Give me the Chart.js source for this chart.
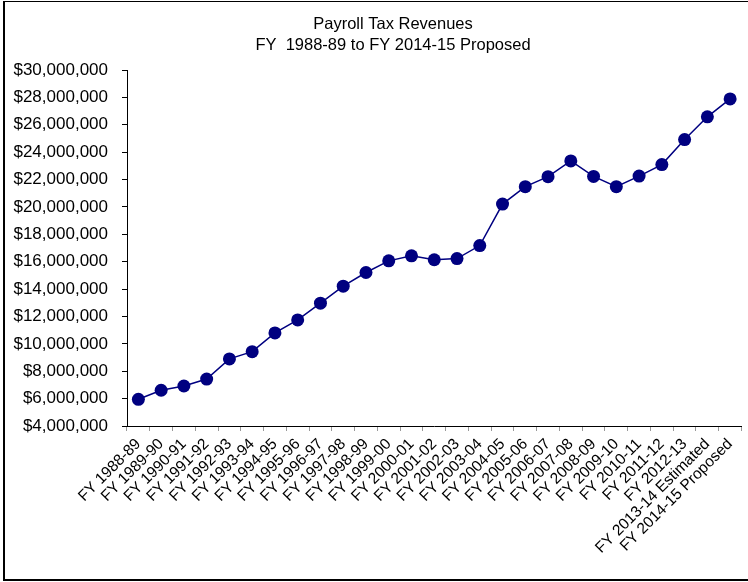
<!DOCTYPE html>
<html>
<head>
<meta charset="utf-8">
<script src="https://cdn.jsdelivr.net/npm/chart.js@4/dist/chart.umd.min.js"></script>
<style>
  html, body { margin: 0; padding: 0; background: #fff; overflow: hidden; }
  #wrap { position: relative; width: 748px; height: 582px; }
  #frame {
    position: absolute; left: 3px; top: 1px; right: 0; bottom: 1px;
    border-left: 2px solid #000; border-top: 1px solid #000; border-bottom: 2px solid #000;
    pointer-events: none;
  }
  canvas { position: absolute; left: 0; top: 0; }
</style>
</head>
<body>
<div id="wrap">
  <canvas id="payrollChart" width="748" height="582"></canvas>
  <div id="frame"></div>
</div>
<script>
const titleLines = ['Payroll Tax Revenues', 'FY  1988-89 to FY 2014-15 Proposed'];

const fiscalYears = [
  'FY 1988-89', 'FY 1989-90', 'FY 1990-91', 'FY 1991-92', 'FY 1992-93', 'FY 1993-94',
  'FY 1994-95', 'FY 1995-96', 'FY 1996-97', 'FY 1997-98', 'FY 1998-99', 'FY 1999-00',
  'FY 2000-01', 'FY 2001-02', 'FY 2002-03', 'FY 2003-04', 'FY 2004-05', 'FY 2005-06',
  'FY 2006-07', 'FY 2007-08', 'FY 2008-09', 'FY 2009-10', 'FY 2010-11', 'FY 2011-12',
  'FY 2012-13', 'FY 2013-14 Estimated', 'FY 2014-15 Proposed'
];

// payroll tax revenue per fiscal year, dollars
const revenues = [
  5950000, 6610000, 6920000, 7430000, 8900000, 9430000,
  10800000, 11750000, 12970000, 14210000, 15210000, 16060000,
  16430000, 16140000, 16230000, 17180000, 20210000, 21480000,
  22210000, 23360000, 22230000, 21480000, 22250000, 23090000,
  24920000, 26580000, 27890000
];

const yMin = 4000000;
const yMax = 30000000;
const yLabelStep = 2000000;
const yMinorStep = 1000000;

const FONT = "'Liberation Sans', Arial, sans-serif";

// two-line heading drawn straight onto the canvas
const headingPlugin = {
  id: 'heading',
  afterDraw(chart) {
    const c = chart.ctx;
    c.save();
    c.fillStyle = '#000';
    c.textAlign = 'center';
    c.textBaseline = 'alphabetic';
    c.font = '16.5px ' + FONT;
    c.fillText(titleLines[0], 393, 29);
    c.fillText(titleLines[1], 393, 50);
    c.restore();
  }
};

const ctx = document.getElementById('payrollChart').getContext('2d');

new Chart(ctx, {
  type: 'line',
  data: {
    labels: fiscalYears,
    datasets: [{
      label: 'Payroll Tax Revenues',
      data: revenues,
      borderColor: '#000080',
      borderWidth: 1.5,
      backgroundColor: '#000080',
      pointBackgroundColor: '#000080',
      pointBorderWidth: 0,
      pointRadius: 6.5,
      tension: 0,
      fill: false
    }]
  },
  options: {
    responsive: false,
    animation: false,
    layout: { padding: { top: 70, right: 6, left: 0, bottom: 0 } },
    plugins: {
      legend: { display: false },
      title: { display: false },
      tooltip: { enabled: false }
    },
    scales: {
      x: {
        offset: true,
        grid: {
          offset: true,
          drawOnChartArea: false,
          tickLength: 5,
          tickColor: '#999'
        },
        border: { color: '#000', width: 1 },
        ticks: {
          autoSkip: false,
          maxRotation: 45,
          minRotation: 45,
          padding: 4,
          color: '#000',
          font: { family: FONT, size: 15.5 }
        },
        afterFit(scale) { scale.height = 156; }
      },
      y: {
        min: yMin,
        max: yMax,
        grid: {
          drawOnChartArea: false,
          tickLength: 5,
          tickColor: c => (c.tick && c.tick.value % yLabelStep === 0) ? '#000' : '#aaa'
        },
        border: { color: '#000', width: 1 },
        ticks: {
          stepSize: yMinorStep,
          padding: 14,
          color: '#000',
          font: { family: FONT, size: 17 },
          callback: v => v % yLabelStep === 0 ? '$' + v.toLocaleString('en-US') : ''
        },
        afterFit(scale) { scale.width = 127; }
      }
    }
  },
  plugins: [headingPlugin]
});
</script>
</body>
</html>
